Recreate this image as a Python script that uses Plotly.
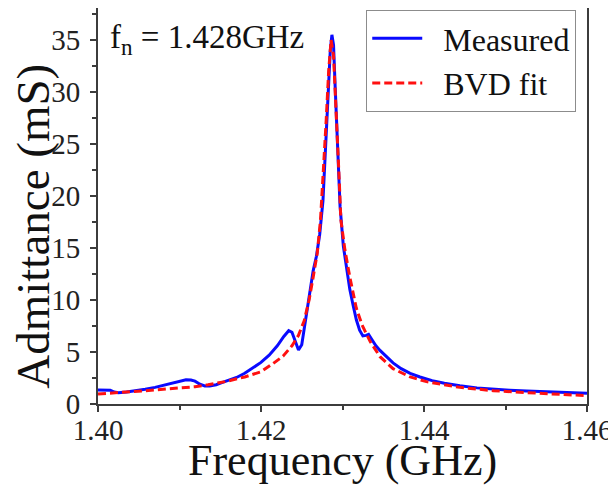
import plotly.graph_objects as go

# ------------------------------
# Données
freq_meas = [1.4000, 1.4010, 1.4015, 1.4020, 1.4025, 1.4035, 1.4045, 1.4058, 1.4070, 1.4080,
             1.4090, 1.4100, 1.4108, 1.4114, 1.4119, 1.4125, 1.4131, 1.4137, 1.4145, 1.4152,
             1.4160, 1.4170, 1.4180, 1.4190, 1.4200, 1.4210, 1.4220, 1.4228, 1.4234, 1.4238,
             1.4242, 1.4246, 1.4250, 1.4253, 1.4256, 1.4260, 1.4264, 1.4268, 1.4272, 1.4276,
             1.4279, 1.4282, 1.4285, 1.4287, 1.4289, 1.4291, 1.4294, 1.4297, 1.4301, 1.4305,
             1.4309, 1.4313, 1.4317, 1.4321, 1.4325, 1.4329, 1.4332, 1.4336, 1.4341, 1.4346,
             1.4354, 1.4362, 1.4372, 1.4383, 1.4395, 1.4410, 1.4425, 1.4444, 1.4465, 1.4485,
             1.4505, 1.4526, 1.4550, 1.4570, 1.4600]
adm_meas = [1.35, 1.35, 1.33, 1.15, 1.09, 1.15, 1.25, 1.41, 1.60, 1.78,
            1.95, 2.15, 2.32, 2.30, 2.20, 1.90, 1.73, 1.73, 1.85, 2.05,
            2.24, 2.55, 2.95, 3.45, 4.00, 4.70, 5.60, 6.50, 7.05, 6.90,
            6.00, 5.20, 5.70, 7.20, 9.00, 11.0, 12.8, 14.2, 16.3, 19.5,
            24.0, 29.5, 34.0, 35.5, 34.5, 30.5, 24.0, 19.0, 15.2, 13.0,
            11.0, 9.50, 8.10, 7.10, 6.55, 6.60, 6.70, 6.20, 5.60, 5.15,
            4.50, 3.95, 3.40, 2.95, 2.60, 2.25, 2.00, 1.75, 1.55, 1.42,
            1.33, 1.25, 1.17, 1.11, 1.03]

freq_fit = [1.4000, 1.4027, 1.4058, 1.4088, 1.4119, 1.4135, 1.4156, 1.4180, 1.4200, 1.4215,
            1.4227, 1.4238, 1.4246, 1.4253, 1.4259, 1.4264, 1.4269, 1.4273, 1.4276, 1.4280,
            1.4283, 1.4286, 1.4289, 1.4293, 1.4296, 1.4298, 1.4303, 1.4309, 1.4317, 1.4324,
            1.4334, 1.4346, 1.4362, 1.4383, 1.4403, 1.4444, 1.4485, 1.4526, 1.4560, 1.4600]
adm_fit = [0.96, 1.09, 1.28, 1.47, 1.66, 1.85, 2.15, 2.60, 3.10, 3.90,
           4.60, 5.60, 6.60, 8.00, 10.0, 12.2, 14.5, 17.7, 21.5, 27.3,
           32.0, 35.0, 33.5, 27.3, 21.5, 17.7, 14.8, 12.2, 9.20, 7.60,
           6.00, 4.55, 3.40, 2.60, 2.15, 1.60, 1.28, 1.09, 0.93, 0.80]

x_ticks = [1.40, 1.42, 1.44, 1.46]
x_ticklabels = ["1.40", "1.42", "1.44", "1.46"]
y_ticks = [0, 5, 10, 15, 20, 25, 30, 35]

police = "Liberation Serif, Times New Roman, serif"
axe_couleur = "#3c3c3c"
texte_couleur = "#111111"
nbsp = "\u00a0\u00a0"  # petit espace entre le symbole et le texte de la légende

fig = go.Figure()

fig.add_trace(go.Scatter(
    x=freq_meas, y=adm_meas, mode="lines", name=nbsp + "Measured",
    line=dict(color="#0a0aff", width=3)
))
fig.add_trace(go.Scatter(
    x=freq_fit, y=adm_fit, mode="lines", name=nbsp + "BVD fit",
    line=dict(color="#ff1010", width=3, dash="8px,4px")
))

axe_commun = dict(
    showline=True, linecolor=axe_couleur, linewidth=2, mirror=True,
    ticks="outside", ticklen=6, tickwidth=2, tickcolor=axe_couleur,
    showgrid=False, zeroline=False, automargin=False,
    tickfont=dict(family=police, size=29, color="#222222"),
)

# la page ajoute une marge de 8 px autour de la figure
fig.update_layout(
    width=608, height=481,
    margin=dict(l=90, r=29, t=0, b=85),
    plot_bgcolor="white", paper_bgcolor="white",
    font=dict(family=police, color=texte_couleur),
    xaxis=dict(
        range=[1.40, 1.46], tickvals=x_ticks, ticktext=x_ticklabels,
        minor=dict(dtick=0.01, ticks="outside", ticklen=4, tickwidth=2, tickcolor=axe_couleur),
        ticklabelstandoff=-7,
        **axe_commun
    ),
    yaxis=dict(
        range=[0, 38.08], tickvals=y_ticks,
        minor=dict(dtick=2.5, ticks="outside", ticklen=4, tickwidth=2, tickcolor=axe_couleur),
        ticklabelstandoff=4,
        **axe_commun
    ),
    legend=dict(
        x=0.978, y=0.995, xanchor="right", yanchor="top",
        bordercolor="#8c8c8c", borderwidth=1, bgcolor="white",
        font=dict(family=police, size=32, color=texte_couleur),
        itemwidth=50, tracegroupgap=0,
    ),
    showlegend=True,
)

# Titres des axes
fig.add_annotation(
    text="Frequency (GHz)", xref="paper", yref="paper",
    x=0.5, y=-0.143, xanchor="center", yanchor="middle", showarrow=False,
    font=dict(family=police, size=44, color=texte_couleur)
)
fig.add_annotation(
    text="Admittance (mS)", xref="paper", yref="paper", textangle=-90,
    x=-0.133, y=0.45, xanchor="center", yanchor="middle", showarrow=False,
    font=dict(family=police, size=47, color=texte_couleur)
)

fig.add_annotation(
    text="f<sub>n</sub> = 1.428GHz", xref="paper", yref="paper",
    x=0.02, y=0.92, xanchor="left", yanchor="middle", showarrow=False,
    font=dict(family=police, size=33, color=texte_couleur)
)

fig.write_html("out.html")
